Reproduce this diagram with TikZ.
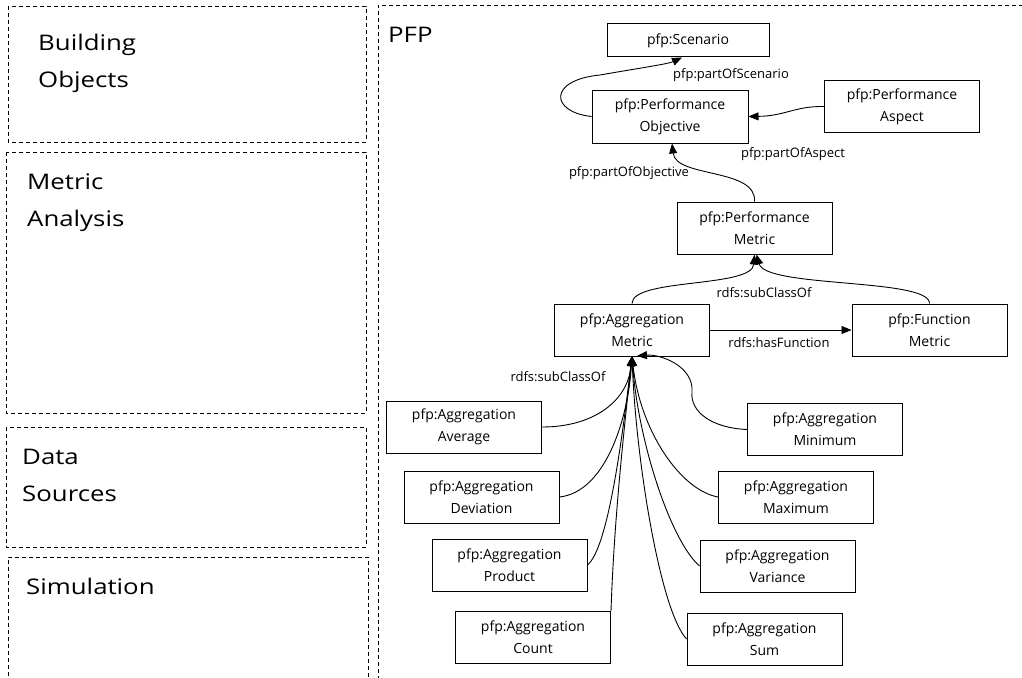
\documentclass[tikz,border=0pt]{standalone}
\usepackage{fontspec}
\setmainfont{Open Sans}
\usetikzlibrary{arrows.meta}
\newcommand\wideline[1]{\scalebox{1.2}[1]{#1}}
\tikzset{
  box/.style={draw, line width=1pt, minimum width=155pt, minimum height=52pt, inner sep=0pt, align=center, font=\fontsize{14}{22}\selectfont},
  lbl/.style={font=\fontsize{13}{15}\selectfont, inner sep=0pt},
  conn/.style={line width=0.9pt, -{Triangle[length=10pt,width=8pt]}},
  panel/.style={dash pattern=on 4pt off 3pt, line width=0.9pt},
  big/.style={font=\fontsize{21.5}{37}\selectfont, align=left, inner sep=0pt, anchor=north west},
}
\begin{document}
\begin{tikzpicture}[x=1pt,y=-1pt]
\useasboundingbox (0,0) rectangle (1022,677);
% panels
\draw[panel] (8,6) rectangle (366,142);
\draw[panel] (6,152) rectangle (366,413);
\draw[panel] (6,427) rectangle (366,547);
\draw[panel] (8,690) -- (8,557) -- (368,557) -- (368,690);
\draw[panel] (1030,5) -- (378,5) -- (378,690);
\node[big] (tbo) at (38,34) {\wideline{Building}\\\wideline{Objects}};
\node[big] (tma) at (27,174) {\wideline{Metric}\\\wideline{Analysis}};
\node[big] (tds) at (22,449) {\wideline{Data}\\\wideline{Sources}};
\node[big] (tsi) at (26,578) {\wideline{Simulation}};
\node[big] (tpfp) at (388,27) {\wideline{PFP}};
% nodes
\node[box, minimum width=162pt, minimum height=33pt] (scen) at (688,40.5) {pfp:Scenario};
\node[box, minimum width=156pt, minimum height=53pt] (pobj) at (670,116.5) {pfp:Performance\\Objective};
\node[box] (pasp) at (902,106.5) {pfp:Performance\\Aspect};
\node[box] (pmet) at (754.5,228) {pfp:Performance\\Metric};
\node[box] (amet) at (632,330) {pfp:Aggregation\\Metric};
\node[box] (fmet) at (929.5,330) {pfp:Function\\Metric};
\node[box] (avg) at (464,427) {pfp:Aggregation\\Average};
\node[box] (dev) at (481.5,497) {pfp:Aggregation\\Deviation};
\node[box] (prod) at (509.5,565) {pfp:Aggregation\\Product};
\node[box] (cnt) at (533,637.5) {pfp:Aggregation\\Count};
\node[box] (min) at (825,429.5) {pfp:Aggregation\\Minimum};
\node[box] (max) at (796,497) {pfp:Aggregation\\Maximum};
\node[box] (var) at (777.5,566) {pfp:Aggregation\\Variance};
\node[box] (sum) at (764.5,639) {pfp:Aggregation\\Sum};
% labels
\node[lbl] (l1) at (731,75) {pfp:partOfScenario};
\node[lbl] (l2) at (793,154) {pfp:partOfAspect};
\node[lbl] (l3) at (629,173) {pfp:partOfObjective};
\node[lbl] (l4) at (764,293) {rdfs:subClassOf};
\node[lbl] (l5) at (779,343) {rdfs:hasFunction};
\node[lbl] (l6) at (558,377) {rdfs:subClassOf};
% connectors
\coordinate (sc1) at (600,75);
\draw[conn] (pobj.west) .. controls (550,112) and (548,80) .. (sc1) .. controls (640,68) and (668,64) .. ([xshift=-6pt]scen.south);
\draw[conn] (pasp.west) .. controls (795,106) and (785,116) .. (pobj.east);
\draw[conn] (pmet.north) .. controls (757,168) and (676,178) .. ([xshift=2pt]pobj.south);
\draw[conn] (amet.north) .. controls (632,278) and (752,288) .. (pmet.south);
\draw[conn] (fmet.north) .. controls (930,278) and (766,288) .. ([xshift=2pt]pmet.south);
\draw[conn] (amet.east) -- (fmet.west);
\coordinate (tip) at (632,356);
\draw[conn] (avg.east) .. controls (595,427) and (628,400) .. (tip);
\draw[conn] (dev.east) .. controls (605,492) and (628,420) .. (tip);
\draw[conn] (prod.east) .. controls (608,548) and (622,440) .. (tip);
\draw[conn] (cnt.north east) .. controls (614,520) and (624,430) .. (tip);
\coordinate (mm) at (692,392);
\draw[conn] (min.west) .. controls (712,428) and (690,412) .. (mm) .. controls (694,366) and (660,354) .. ([xshift=5pt]tip);
\draw[conn] (max.west) .. controls (680,490) and (640,430) .. (tip);
\draw[conn] (var.west) .. controls (670,540) and (638,440) .. (tip);
\draw[conn] (sum.west) .. controls (660,610) and (636,460) .. (tip);
\end{tikzpicture}
\end{document}
